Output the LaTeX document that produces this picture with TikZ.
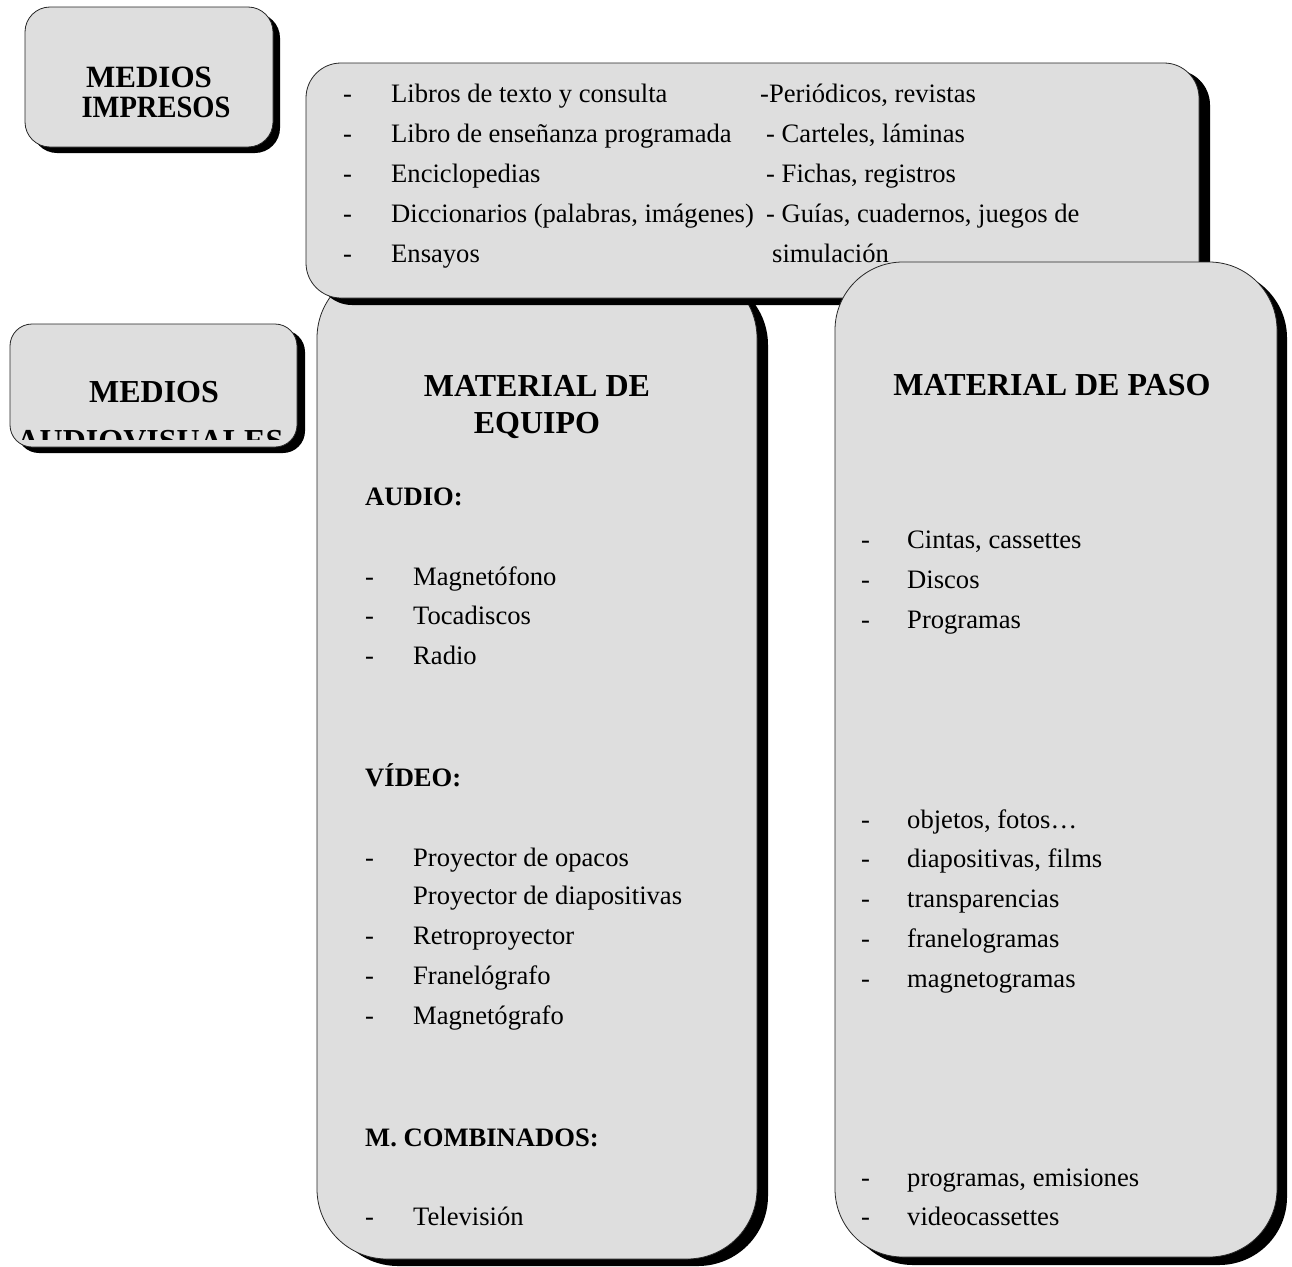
\documentclass[tikz,border=0pt]{standalone}
\usepackage{fontspec}
\setmainfont{Liberation Serif}
\definecolor{panelgray}{HTML}{DEDEDE}
\begin{document}
\begin{tikzpicture}[x=1pt,y=-1pt,
  panel/.style={fill=panelgray, draw=black!85, line width=0.8pt},
  drop/.style={fill=black},
  item/.style={font=\fontsize{26.6}{32}\selectfont, inner sep=0pt, anchor=base west},
  sub/.style={font=\bfseries\fontsize{26.6}{32}\selectfont, inner sep=0pt, anchor=base west},
  head/.style={font=\bfseries\fontsize{32}{38}\selectfont, inner sep=0pt, anchor=base},
  smallhead/.style={font=\bfseries\fontsize{31}{37}\selectfont, inner sep=0pt, anchor=base}]
\useasboundingbox (0,0) rectangle (1292,1266);

% ---- panels with drop shadows (back to front) ----
% equipment panel
\fill[drop, rounded corners=70pt] (328,275) rectangle (768,1266);
\draw[panel, rounded corners=70pt] (317,268) rectangle (757,1259);
% printed media list
\fill[drop, rounded corners=35pt] (317,70) rectangle (1210,305);
\draw[panel, rounded corners=35pt] (306,63) rectangle (1199,298);
% consumables panel
\fill[drop, rounded corners=68pt] (845,270) rectangle (1287,1265);
\draw[panel, rounded corners=68pt] (835,262) rectangle (1277,1257);
% printed media label
\fill[drop, rounded corners=25pt] (32,13) rectangle (280,153);
\draw[panel, rounded corners=25pt] (25,7) rectangle (273,147);
% audiovisual media label
\fill[drop, rounded corners=22pt] (17,330) rectangle (305,453);
\draw[panel, rounded corners=22pt] (10,324) rectangle (297,447);

% ---- labels on the left ----
\node[smallhead] (impA) at (149,87) {MEDIOS};
\node[smallhead, xscale=0.92] (impB) at (156,117) {IMPRESOS};
\begin{scope}
  \clip (10,324) rectangle (297,439);
  \node[head] (avA) at (154,402) {MEDIOS};
  \node[head] (avB) at (150,451) {AUDIOVISUALES};
\end{scope}

% ---- printed media list ----
\foreach \t [count=\i] in {Libros de texto y consulta,Libro de enseñanza programada,Enciclopedias,Diccionarios (palabras{,} imágenes),Ensayos}{
  \node[item] (pd\i) at (343,{62+40*\i}) {-};
  \node[item] (pl\i) at (391,{62+40*\i}) {\t};
}
\node[item] (pr1) at (760,102) {-Periódicos, revistas};
\node[item] (pr2) at (766,142) {- Carteles, láminas};
\node[item] (pr3) at (766,182) {- Fichas, registros};
\node[item] (pr4) at (766,222) {- Guías, cuadernos, juegos de};
\node[item] (pr5) at (772,262) {simulación};

% ---- equipment panel ----
\node[head] (eqA) at (537,396) {MATERIAL DE};
\node[head] (eqB) at (537,433) {EQUIPO};
\node[sub] (audio) at (365,505) {AUDIO:};
\node[sub] (video) at (365,786) {VÍDEO:};
\node[sub] (comb) at (365,1146) {M. COMBINADOS:};
\foreach \t/\y [count=\i] in {Magnetófono/585,Tocadiscos/624,Radio/664,Proyector de opacos/866,Retroproyector/944,Franelógrafo/984,Magnetógrafo/1024,Televisión/1225}{
  \node[item] (ed\i) at (365,\y) {-};
  \node[item] (el\i) at (413,\y) {\t};
}
\node[item] (elx) at (413,904) {Proyector de diapositivas};

% ---- consumables panel ----
\node[head] (paso) at (1052,395) {MATERIAL DE PASO};
\foreach \t/\y [count=\i] in {Cintas{,} cassettes/548,Discos/588,Programas/628,objetos{,} fotos…/828,diapositivas{,} films/867,transparencias/907,franelogramas/947,magnetogramas/987,programas{,} emisiones/1186,videocassettes/1225}{
  \node[item] (md\i) at (861,\y) {-};
  \node[item] (ml\i) at (907,\y) {\t};
}
\end{tikzpicture}
\end{document}
